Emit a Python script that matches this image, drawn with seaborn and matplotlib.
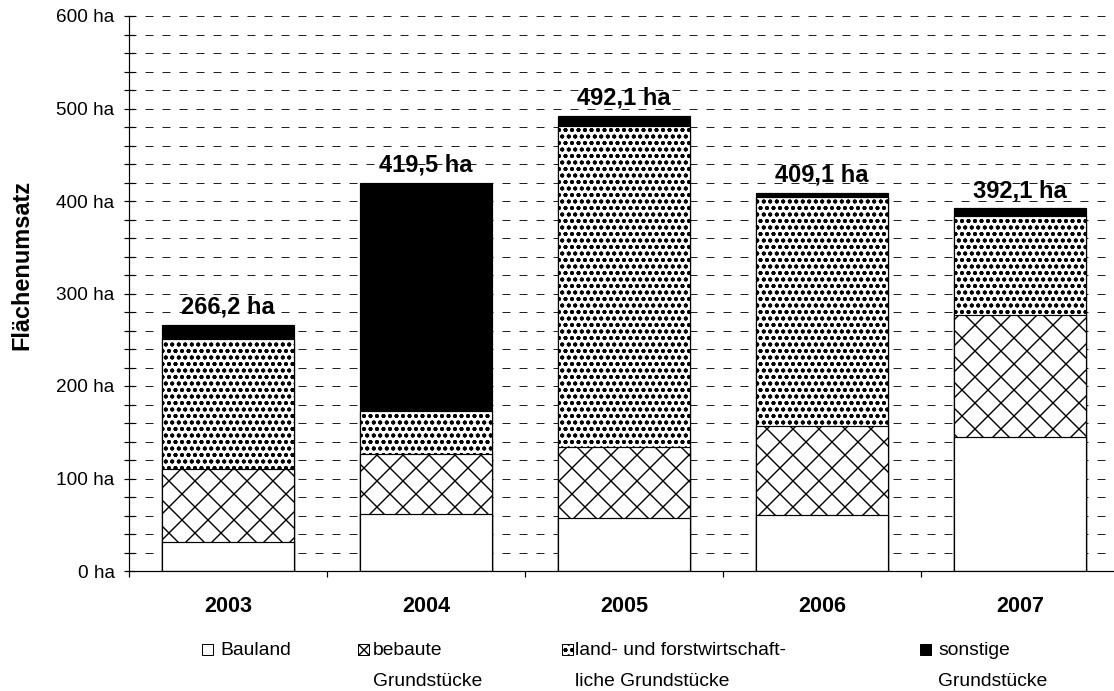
import matplotlib
matplotlib.use("Agg")
import matplotlib.pyplot as plt
import seaborn as sns
import numpy as np
from matplotlib.patches import Rectangle
from matplotlib.ticker import MultipleLocator, FixedLocator

# --- data (ha) ---
years = ["2003", "2004", "2005", "2006", "2007"]
bauland = [31.4, 61.3, 57.0, 60.5, 145.0]
bebaute = [78.6, 64.8, 76.7, 96.6, 131.8]
land_forst = [140.5, 47.2, 347.9, 246.9, 107.0]
sonstige = [15.7, 246.2, 10.5, 5.1, 8.3]

legend_labels = [
    ["Bauland"],
    ["bebaute", "Grundstücke"],
    ["land- und forstwirtschaft-", "liche Grundstücke"],
    ["sonstige", "Grundstücke"],
]
y_ticks = [0, 100, 200, 300, 400, 500, 600]

# --- figure geometry (pixels) ---
DPI = 156
W, H = 1114, 691


def P(px):
    """pixels -> points at the output resolution"""
    return px * 72.0 / DPI


DOTS = "oooo...."
BRICK = "xx"

sns.set_style("white")
plt.rcParams["font.family"] = ["Liberation Sans", "DejaVu Sans"]
plt.rcParams["hatch.linewidth"] = P(1.4)
plt.rcParams["hatch.color"] = "black"
plt.rcParams["lines.scale_dashes"] = False

fig = plt.figure(figsize=(W / DPI, H / DPI), dpi=DPI)
ax_left, ax_right, ax_top, ax_bottom = 129, 1119, 16, 571
ax = fig.add_axes([ax_left / W, 1 - ax_bottom / H,
                   (ax_right - ax_left) / W, (ax_bottom - ax_top) / H])

# cumulative heights, drawn from the top layer downwards
c1 = np.array(bauland)
c2 = c1 + np.array(bebaute)
c3 = c2 + np.array(land_forst)
c4 = c3 + np.array(sonstige)

layers = [
    (c4, "black", None),
    (c3, "white", DOTS),
    (c2, "white", BRICK),
    (c1, "white", None),
]
bar_width = 0.667
for heights, face, hatch in layers:
    kw = dict(hatch=hatch) if hatch else {}
    sns.barplot(x=years, y=heights, color=face, saturation=1, width=bar_width,
                edgecolor="black", linewidth=P(1.2), errorbar=None, ax=ax,
                zorder=3, **kw)

# value labels on top of each bar
for i, total in enumerate(c4):
    ax.annotate(f"{total:.1f}".replace(".", ",") + " ha", (i, total),
                xytext=(0, P(11)), textcoords="offset points",
                ha="center", va="baseline", fontsize=P(23.6),
                fontweight="bold", color="black", zorder=5)

# axes styling
ax.set_xlim(-0.5, 4.5)
ax.set_ylim(0, 600)
ax.set_xlabel("")
ax.set_ylabel("")
for side in ["top", "right"]:
    ax.spines[side].set_visible(False)
for side in ["left", "bottom"]:
    ax.spines[side].set_color("black")
    ax.spines[side].set_linewidth(P(1.2))
    ax.spines[side].set_zorder(4)

ax.yaxis.set_major_locator(FixedLocator(y_ticks))
ax.set_yticklabels([f"{t} ha" for t in y_ticks])
ax.yaxis.set_minor_locator(MultipleLocator(20))
ax.tick_params(axis="y", which="both", direction="inout", length=P(11),
               width=P(1.2), color="black", left=True)
ax.tick_params(axis="y", which="major", pad=P(9), labelsize=P(19),
               labelcolor="black")

ax.xaxis.set_minor_locator(FixedLocator([-0.5, 0.5, 1.5, 2.5, 3.5, 4.5]))
ax.tick_params(axis="x", which="major", length=0, pad=P(25),
               labelsize=P(21.6), labelcolor="black")
ax.tick_params(axis="x", which="minor", direction="out", length=P(6),
               width=P(1.2), color="black", bottom=True)
for lbl in ax.get_xticklabels():
    lbl.set_fontweight("bold")

# dashed horizontal grid at every 20 ha
ax.set_axisbelow(True)
ax.yaxis.grid(True, which="both", color="#222222", linewidth=P(1.0),
              linestyle=(P(1), (P(8), P(9))))
ax.xaxis.grid(False)

# y axis title
fig.text(22 / W, 1 - 265 / H, "Flächenumsatz", rotation=90, ha="center",
         va="center", fontsize=P(23.5), fontweight="bold", color="black")

# legend row below the plot
legend_items = [
    ("white", None, 202, 220),
    ("white", BRICK, 358, 373),
    ("white", DOTS, 562, 575),
    ("black", None, 920, 938),
]
box = 11
for (face, hatch, bx, tx), lines in zip(legend_items, legend_labels):
    rect = Rectangle((bx / W, 1 - (644 + box) / H), box / W, box / H,
                     transform=fig.transFigure, facecolor=face,
                     edgecolor="black", linewidth=P(1.0), hatch=hatch)
    fig.add_artist(rect)
    for k, line in enumerate(lines):
        fig.text(tx / W, 1 - (655 + 31 * k) / H, line, ha="left",
                 va="baseline", fontsize=P(19.2), color="black")

fig.savefig("out.png", dpi=DPI)
